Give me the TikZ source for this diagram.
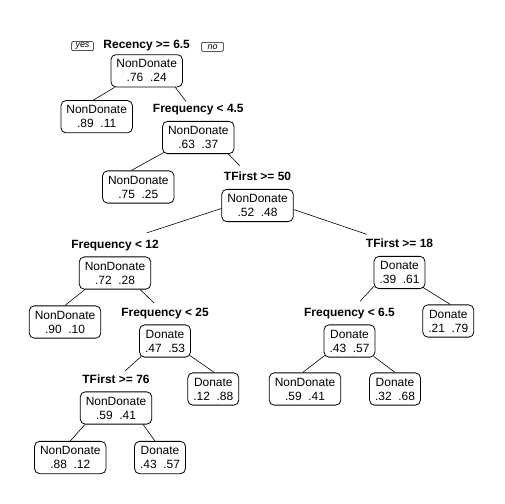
\documentclass[tikz,border=0pt]{standalone}
\usepackage{fontspec}
\setmainfont{Liberation Sans}
\usetikzlibrary{positioning}
\newcommand{\probs}[2]{#1\hspace{6.7bp}#2}
\tikzset{
  treebox/.style={draw,rounded corners=5bp,fill=white,align=center,inner xsep=5.5bp,inner ysep=5bp,line width=0.8bp,font=\fontsize{12}{14}\selectfont},
  splitlab/.style={anchor=base,inner sep=1bp,font=\bfseries\fontsize{12}{14}\selectfont},
  dirbox/.style={draw,rounded corners=1bp,inner sep=0pt,minimum width=21.6bp,minimum height=9bp,line width=0.5bp,font=\itshape\fontsize{9}{10}\selectfont},
  branch/.style={line width=0.6bp}
}
\begin{document}
\begin{tikzpicture}[x=1bp,y=-1bp]
\useasboundingbox[fill=white] (0,0) rectangle (504,504);
% ---------- split nodes ----------
\node[treebox] (root) at (146.7,70.8) {NonDonate\\\probs{.76}{.24}};
\node[treebox] (frqA) at (198.3,137.5) {NonDonate\\\probs{.63}{.37}};
\node[treebox] (tfA)  at (257.5,205.5) {NonDonate\\\probs{.52}{.48}};
\node[treebox] (frqB) at (115,273)     {NonDonate\\\probs{.72}{.28}};
\node[treebox] (tfB)  at (399.5,272.5) {Donate\\\probs{.39}{.61}};
\node[treebox] (frqC) at (165,341)     {Donate\\\probs{.47}{.53}};
\node[treebox] (frqD) at (349.5,341)   {Donate\\\probs{.43}{.57}};
\node[treebox] (tfC)  at (116,408)     {NonDonate\\\probs{.59}{.41}};
% ---------- leaves ----------
\node[treebox] (lfA) at (96.7,116.7)  {NonDonate\\\probs{.89}{.11}};
\node[treebox] (lfB) at (138.3,187)   {NonDonate\\\probs{.75}{.25}};
\node[treebox] (lfC) at (65,322)      {NonDonate\\\probs{.90}{.10}};
\node[treebox] (lfD) at (448.3,321)   {Donate\\\probs{.21}{.79}};
\node[treebox] (lfE) at (213.3,389)   {Donate\\\probs{.12}{.88}};
\node[treebox] (lfF) at (305,389)     {NonDonate\\\probs{.59}{.41}};
\node[treebox] (lfG) at (395,389)     {Donate\\\probs{.32}{.68}};
\node[treebox] (lfH) at (70.3,457.5)  {NonDonate\\\probs{.88}{.12}};
\node[treebox] (lfI) at (160,457.5)   {Donate\\\probs{.43}{.57}};
% ---------- split labels ----------
\node[splitlab] (labRoot) at (146.7,48.3) {Recency >= 6.5};
\node[splitlab] (labA) at ([yshift=8.3bp]frqA.north) {Frequency < 4.5};
\node[splitlab] (labB) at ([yshift=8.3bp]tfA.north)  {TFirst >= 50};
\node[splitlab] (labC) at ([yshift=8.3bp]frqB.north) {Frequency < 12};
\node[splitlab] (labD) at ([yshift=8.3bp]tfB.north)  {TFirst >= 18};
\node[splitlab] (labE) at ([yshift=8.3bp]frqC.north) {Frequency < 25};
\node[splitlab] (labF) at ([yshift=8.3bp]frqD.north) {Frequency < 6.5};
\node[splitlab] (labG) at ([yshift=8.3bp]tfC.north)  {TFirst >= 76};
\node[dirbox] (yes) at (82.5,46.2) {yes};
\node[dirbox] (no)  at (212.5,46.8) {no};
% ---------- branches ----------
\draw[branch] ([shift={(4,0)}]root.south west) -- ([shift={(-3.4,0)}]lfA.north);
\draw[branch] ([shift={(-7.5,0)}]root.south east) -- ([shift={(-12.3,-1.8)}]labA.north);
\draw[branch] ([shift={(1.5,-1.5)}]frqA.south west) -- ([shift={(-7,0)}]lfB.north);
\draw[branch] ([shift={(-6,0)}]frqA.south east) -- ([shift={(-17.5,-4.8)}]labB.north);
\draw[branch] ([shift={(0,3)}]tfA.west) -- ([shift={(31.7,-5.7)}]labC.north);
\draw[branch] ([shift={(0,4)}]tfA.east) -- ([shift={(-32.8,-3.5)}]labD.north);
\draw[branch] ([shift={(6,0)}]frqB.south west) -- (lfC.north);
\draw[branch] ([shift={(-11,0)}]frqB.south east) -- ([shift={(-11,-3.7)}]labE.north);
\draw[branch] ([shift={(0.5,-3)}]tfB.south west) -- ([shift={(10.5,-5.3)}]labF.north);
\draw[branch] ([shift={(-3,-2)}]tfB.south east) -- ([shift={(2,0)}]lfD.north);
\draw[branch] ([shift={(2,-1)}]frqC.south west) -- ([shift={(9,-2.3)}]labG.north);
\draw[branch] ([shift={(-1,-2)}]frqC.south east) -- ([shift={(1,0)}]lfE.north);
\draw[branch] ([shift={(1,-2)}]frqD.south west) -- ([shift={(-2.3,0)}]lfF.north);
\draw[branch] ([shift={(-1.5,-1)}]frqD.south east) -- (lfG.north);
\draw[branch] ([shift={(5,0)}]tfC.south west) -- (lfH.north);
\draw[branch] ([shift={(-9,0)}]tfC.south east) -- ([shift={(-5,0)}]lfI.north);
\end{tikzpicture}
\end{document}
